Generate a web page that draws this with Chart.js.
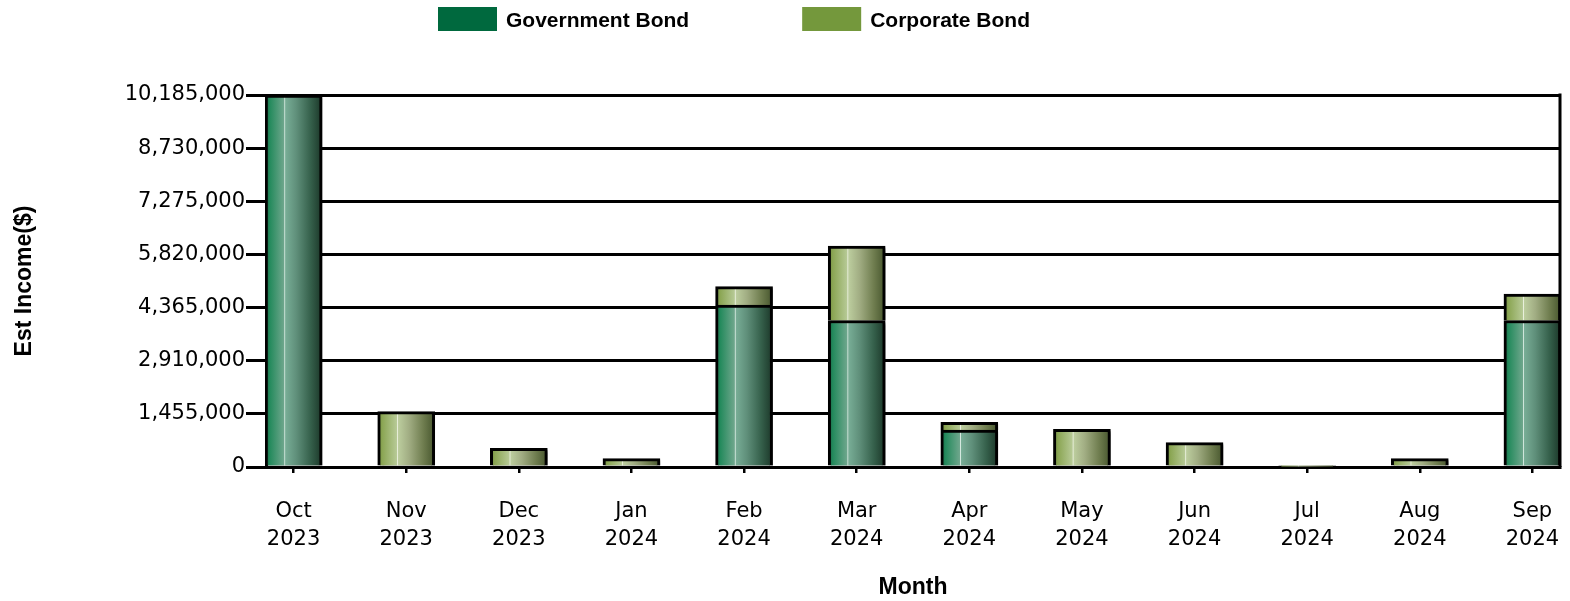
<!DOCTYPE html>
<html>
<head>
<meta charset="utf-8">
<script src="https://cdn.jsdelivr.net/npm/chart.js@4/dist/chart.umd.min.js"></script>
<style>
  html, body { margin: 0; padding: 0; background: #fff; }
  #wrap { width: 1570px; height: 601px; position: relative; }
</style>
</head>
<body>
<div id="wrap"><canvas id="c" width="1570" height="601"></canvas></div>
<script>
const categories = [
  ['Oct', '2023'], ['Nov', '2023'], ['Dec', '2023'], ['Jan', '2024'],
  ['Feb', '2024'], ['Mar', '2024'], ['Apr', '2024'], ['May', '2024'],
  ['Jun', '2024'], ['Jul', '2024'], ['Aug', '2024'], ['Sep', '2024']
];
const seriesNames = ['Government Bond', 'Corporate Bond'];
const governmentBond = [10185000, 0, 0, 0, 4430000, 4010000, 1010000, 0, 0, 0, 0, 4010000];
const corporateBond  = [0, 1520000, 512000, 230000, 508000, 2037000, 212000, 1032000, 668000, 10000, 230000, 721000];
const yTicks = [0, 1455000, 2910000, 4365000, 5820000, 7275000, 8730000, 10185000];
const xAxisTitle = 'Month';
const yAxisTitle = 'Est Income($)';

const legendColors = ['#00693e', '#74983c'];
const govStops = [[0, '#17603f'], [0.08, '#238a5c'], [0.33, '#6ea68c'], [0.345, '#d8ebe2'], [0.36, '#78ad96'], [0.55, '#5f8f7a'], [0.8, '#35604b'], [1, '#1b3628']];
const corpStops = [[0, '#6f8c3c'], [0.08, '#8ba654'], [0.33, '#b6c995'], [0.345, '#eef3e2'], [0.36, '#bccd9e'], [0.55, '#a1ad83'], [0.8, '#6f7d4f'], [1, '#46552d']];
const BAR_W = 57;

function gradFor(stops, fallback) {
  return function (ctx) {
    const chart = ctx.chart;
    const xs = chart.scales && chart.scales.x;
    if (!chart.chartArea || !xs || ctx.dataIndex === undefined) return fallback;
    const cx = xs.getPixelForValue(ctx.dataIndex);
    const g = chart.ctx.createLinearGradient(cx - BAR_W / 2, 0, cx + BAR_W / 2, 0);
    stops.forEach(s => g.addColorStop(s[0], s[1]));
    return g;
  };
}

const toPoints = arr => arr.map((v, i) => ({ x: i, y: v }));

const shadowPlugin = {
  id: 'barShadow',
  beforeDatasetsDraw(chart) {
    const c = chart.ctx;
    c.save();
    c.shadowColor = 'rgba(0,0,0,0.45)';
    c.shadowOffsetX = 3;
    c.shadowOffsetY = 2;
    c.shadowBlur = 2;
  },
  afterDatasetsDraw(chart) {
    chart.ctx.restore();
  }
};

const framePlugin = {
  id: 'frame',
  afterDatasetsDraw(chart) {
    const { ctx, chartArea } = chart;
    ctx.save();
    ctx.strokeStyle = '#000';
    ctx.lineWidth = 3;
    ctx.beginPath();
    ctx.moveTo(chartArea.right, chartArea.top - 1.5);
    ctx.lineTo(chartArea.right, chartArea.bottom);
    ctx.stroke();
    ctx.restore();
  }
};

const legendPlugin = {
  id: 'customLegend',
  afterDraw(chart) {
    const ctx = chart.ctx;
    ctx.save();
    ctx.font = 'bold 21px "Liberation Sans", Arial, sans-serif';
    ctx.textBaseline = 'middle';
    ctx.textAlign = 'left';
    const boxW = 59, boxH = 24, gapText = 9, gapItem = 113, y = 7;
    const widths = seriesNames.map(n => boxW + gapText + ctx.measureText(n).width);
    let x = 438;
    seriesNames.forEach((n, i) => {
      ctx.fillStyle = legendColors[i];
      ctx.fillRect(x, y, boxW, boxH);
      ctx.fillStyle = '#000';
      ctx.fillText(n, x + boxW + gapText, y + boxH / 2 + 2);
      x += widths[i] + gapItem;
    });
    ctx.restore();
  }
};

new Chart(document.getElementById('c'), {
  type: 'bar',
  data: {
    datasets: [
      {
        label: seriesNames[0],
        data: toPoints(governmentBond),
        backgroundColor: gradFor(govStops, legendColors[0]),
        borderColor: '#000',
        borderWidth: 3,
        borderSkipped: 'start',
        barThickness: BAR_W
      },
      {
        label: seriesNames[1],
        data: toPoints(corporateBond),
        backgroundColor: gradFor(corpStops, legendColors[1]),
        borderColor: '#000',
        borderWidth: 3,
        borderSkipped: 'start',
        barThickness: BAR_W
      }
    ]
  },
  options: {
    responsive: false,
    animation: false,
    events: [],
    layout: { padding: { top: 95, right: 10, left: 0, bottom: 0 } },
    plugins: {
      legend: { display: false },
      tooltip: { enabled: false }
    },
    scales: {
      x: {
        type: 'linear',
        stacked: true,
        offset: false,
        min: -0.245,
        max: 11.245,
        afterBuildTicks(scale) {
          scale.ticks = categories.map((_, i) => ({ value: i }));
        },
        afterFit(scale) {
          scale.height = 134;
          scale.paddingLeft = 0;
          scale.paddingRight = 0;
        },
        ticks: {
          autoSkip: false,
          maxRotation: 0,
          minRotation: 0,
          padding: 25,
          color: '#000',
          font: { family: '"DejaVu Sans", Verdana, sans-serif', size: 21, lineHeight: 28 / 21 },
          callback: (v) => categories[v] || ''
        },
        grid: {
          offset: false,
          drawOnChartArea: false,
          drawTicks: true,
          tickLength: 6,
          color: '#000',
          lineWidth: 2.5
        },
        border: { display: true, color: '#000', width: 3 },
        title: {
          display: true,
          text: xAxisTitle,
          color: '#000',
          font: { family: '"Liberation Sans", Arial, sans-serif', size: 23, weight: 'bold' },
          padding: { top: 0, bottom: 0 }
        }
      },
      y: {
        stacked: true,
        min: 0,
        max: yTicks[yTicks.length - 1],
        afterBuildTicks(scale) {
          scale.ticks = yTicks.map(v => ({ value: v }));
        },
        afterFit(scale) { scale.width = 266; },
        ticks: {
          padding: 1,
          color: '#000',
          font: { family: '"DejaVu Sans", Verdana, sans-serif', size: 21 },
          callback: (v) => Number(v).toLocaleString('en-US')
        },
        grid: {
          color: '#000',
          lineWidth: 3,
          tickLength: 20,
          drawTicks: true
        },
        border: { display: true, color: '#000', width: 3 },
        title: {
          display: true,
          text: yAxisTitle,
          color: '#000',
          font: { family: '"Liberation Sans", Arial, sans-serif', size: 23, weight: 'bold' },
          padding: { top: 11, bottom: 0 }
        }
      }
    }
  },
  plugins: [shadowPlugin, framePlugin, legendPlugin]
});
</script>
</body>
</html>
